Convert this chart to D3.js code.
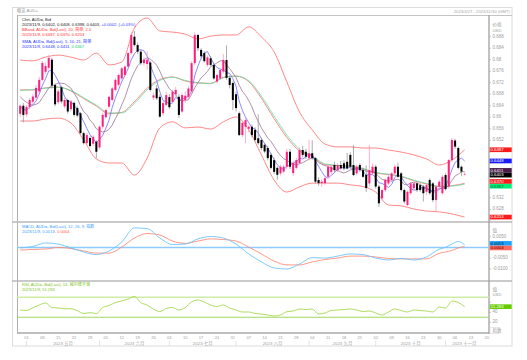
<!DOCTYPE html>
<html>
<head>
<meta charset="utf-8">
<script src="https://cdn.jsdelivr.net/npm/d3@7"></script>
<style>
  body { margin: 0; background: #fff; }
  svg text { font-family: "Liberation Sans", "Noto Sans CJK SC", sans-serif; }
</style>
</head>
<body>
<svg id="chart" width="527" height="360"></svg>
<script>
// ---- data (AUD= daily bid, 2023/4/27 .. 2023/11/9) ----
const opens = [.6612,.6640,.6610,.6636,.6654,.6668,.6690,.6730,.6758,.6772,.6800,.6712,.6652,.6704,.6638,.6660,.6628,.6650,.6632,.6614,
  .6545,.6510,.6528,.6508,.6515,.6495,.6567,.6600,.6637,.6660,.6695,.6713,.6735,.6747,.6776,.6823,.6880,.6851,.6828,.6788,
  .6785,.6790,.6668,.6700,.6671,.6614,.6643,.6670,.6654,.6680,.6671,.6620,.6660,.6671,.6690,.6788,.6886,.6834,.6823,.6782,
  .6805,.6782,.6724,.6735,.6759,.6799,.6737,.6719,.6680,.6614,.6538,.6567,.6560,.6567,.6556,.6527,.6521,.6504,.6493,.6469,
  .6451,.6424,.6405,.6411,.6428,.6480,.6406,.6424,.6441,.6486,.6480,.6458,.6475,.6458,.6382,.6371,.6371,.6393,.6410,.6434,
  .6416,.6434,.6440,.6445,.6469,.6434,.6405,.6434,.6416,.6400,.6370,.6405,.6428,.6359,.6318,.6347,.6370,.6382,.6405,.6428,
  .6405,.6347,.6295,.6336,.6353,.6370,.6364,.6359,.6341,.6382,.6370,.6312,.6359,.6336,.6399,.6359,.6451,.6519,.6493,.6428,.6402];
const highs = [.6645,.6650,.6642,.6668,.6680,.6712,.6740,.6795,.6790,.6817,.6806,.6718,.6698,.6710,.6668,.6665,.6660,.6655,.6640,.6618,
  .6550,.6545,.6535,.6538,.6520,.6572,.6615,.6630,.6675,.6705,.6735,.6752,.6775,.6782,.6828,.6897,.6900,.6860,.6835,.6810,
  .6830,.6795,.6685,.6712,.6680,.6655,.6690,.6680,.6695,.6705,.6680,.6685,.6690,.6708,.6795,.6895,.6890,.6840,.6830,.6815,
  .6812,.6790,.6752,.6772,.6820,.6850,.6745,.6725,.6690,.6620,.6585,.6600,.6572,.6575,.6565,.6610,.6528,.6510,.6500,.6475,
  .6460,.6430,.6435,.6435,.6490,.6490,.6448,.6458,.6495,.6500,.6490,.6522,.6520,.6462,.6392,.6385,.6395,.6435,.6435,.6445,
  .6440,.6448,.6450,.6476,.6478,.6503,.6435,.6440,.6425,.6432,.6504,.6440,.6435,.6365,.6352,.6388,.6400,.6410,.6435,.6442,
  .6410,.6352,.6345,.6375,.6375,.6378,.6370,.6365,.6370,.6388,.6375,.6365,.6382,.6400,.6405,.6455,.6528,.6525,.6498,.6432,.6408];
const lows = [.6600,.6582,.6600,.6628,.6645,.6660,.6684,.6725,.6750,.6765,.6700,.6638,.6645,.6648,.6630,.6612,.6620,.6602,.6600,.6540,
  .6505,.6505,.6495,.6500,.6457,.6488,.6560,.6595,.6630,.6655,.6690,.6708,.6730,.6742,.6770,.6818,.6845,.6820,.6782,.6780,
  .6765,.6690,.6660,.6660,.6598,.6605,.6638,.6628,.6648,.6672,.6598,.6615,.6650,.6665,.6685,.6782,.6830,.6805,.6790,.6775,
  .6778,.6730,.6718,.6730,.6752,.6730,.6700,.6625,.6620,.6535,.6530,.6509,.6548,.6530,.6515,.6505,.6485,.6475,.6450,.6418,
  .6402,.6382,.6398,.6405,.6420,.6420,.6395,.6418,.6435,.6460,.6455,.6450,.6452,.6370,.6362,.6358,.6365,.6388,.6402,.6410,
  .6408,.6418,.6415,.6418,.6420,.6395,.6398,.6410,.6388,.6340,.6360,.6398,.6352,.6288,.6310,.6340,.6365,.6375,.6400,.6390,
  .6342,.6300,.6290,.6330,.6345,.6340,.6340,.6307,.6330,.6330,.6305,.6272,.6348,.6330,.6345,.6352,.6445,.6490,.6418,.6395,.6398];
const closes = [.6640,.6608,.6636,.6660,.6672,.6702,.6730,.6789,.6778,.6806,.6710,.6645,.6690,.6655,.6660,.6620,.6654,.6608,.6606,.6545,
  .6510,.6538,.6500,.6532,.6480,.6567,.6608,.6625,.6671,.6700,.6730,.6747,.6770,.6776,.6823,.6886,.6851,.6828,.6788,.6800,
  .6800,.6695,.6676,.6666,.6602,.6649,.6677,.6635,.6689,.6695,.6608,.6677,.6675,.6700,.6788,.6886,.6840,.6812,.6795,.6808,
  .6782,.6735,.6747,.6764,.6799,.6737,.6712,.6660,.6632,.6538,.6580,.6590,.6567,.6538,.6521,.6510,.6493,.6481,.6458,.6424,
  .6410,.6400,.6428,.6428,.6480,.6428,.6441,.6451,.6486,.6469,.6463,.6475,.6458,.6376,.6371,.6376,.6388,.6428,.6428,.6416,
  .6434,.6422,.6422,.6422,.6428,.6399,.6428,.6416,.6393,.6354,.6416,.6428,.6359,.6301,.6347,.6382,.6393,.6405,.6428,.6393,
  .6347,.6307,.6341,.6370,.6370,.6347,.6347,.6336,.6364,.6336,.6312,.6359,.6376,.6393,.6350,.6451,.6521,.6498,.6424,.6411,.6403];

// simple moving averages, read per candle
const sma5 = [.6640,.6626,.6626,.6635,.6643,.6656,.6680,.6711,.6734,.6761,.6763,.6746,.6726,.6701,.6672,.6654,.6656,.6639,.6630,.6607,
  .6585,.6561,.6540,.6525,.6512,.6523,.6537,.6562,.6590,.6634,.6667,.6695,.6724,.6745,.6769,.6800,.6821,.6833,.6835,.6831,
  .6813,.6782,.6752,.6727,.6688,.6658,.6654,.6646,.6650,.6669,.6661,.6661,.6669,.6671,.6690,.6745,.6778,.6805,.6824,.6828,
  .6807,.6786,.6773,.6767,.6765,.6756,.6752,.6734,.6708,.6656,.6624,.6600,.6581,.6563,.6559,.6545,.6526,.6509,.6493,.6473,
  .6453,.6435,.6424,.6418,.6429,.6433,.6441,.6446,.6457,.6455,.6462,.6469,.6470,.6448,.6429,.6411,.6394,.6388,.6398,.6407,
  .6419,.6426,.6424,.6423,.6426,.6419,.6420,.6419,.6413,.6398,.6401,.6401,.6390,.6372,.6370,.6363,.6356,.6366,.6391,.6400,
  .6393,.6376,.6363,.6352,.6347,.6347,.6355,.6354,.6353,.6346,.6339,.6341,.6349,.6355,.6358,.6386,.6418,.6443,.6452,.6458,.6448];
const sma10 = [.6672,.6660,.6652,.6645,.6642,.6645,.6651,.6668,.6684,.6702,.6710,.6713,.6719,.6718,.6717,.6709,.6701,.6683,.6666,.6640,
  .6620,.6609,.6590,.6578,.6560,.6554,.6549,.6551,.6558,.6573,.6595,.6616,.6643,.6668,.6702,.6734,.6758,.6779,.6790,.6800,
  .6807,.6802,.6793,.6781,.6760,.6736,.6718,.6699,.6689,.6679,.6660,.6658,.6658,.6661,.6680,.6703,.6720,.6737,.6748,.6759,
  .6776,.6782,.6789,.6796,.6797,.6782,.6769,.6754,.6738,.6711,.6690,.6676,.6658,.6636,.6608,.6585,.6563,.6545,.6528,.6516,
  .6499,.6481,.6467,.6456,.6451,.6443,.6438,.6435,.6438,.6442,.6448,.6455,.6458,.6453,.6442,.6437,.6432,.6429,.6423,.6418,
  .6415,.6410,.6406,.6411,.6417,.6419,.6423,.6422,.6418,.6412,.6410,.6411,.6405,.6393,.6384,.6382,.6379,.6378,.6382,.6385,
  .6378,.6366,.6365,.6372,.6374,.6370,.6366,.6359,.6353,.6347,.6343,.6348,.6352,.6354,.6352,.6363,.6380,.6396,.6402,.6410,.6411];

// Bollinger bands (20, 2.0) and SMA 21, read every 4th candle
const bandIdx = [0,4,8,12,16,20,24,28,32,36,40,44,48,52,56,60,64,68,72,76,80,84,88,92,96,100,104,108,112,116,120,124,128,132,136,140];
const bbUpper = [.6799,.6796,.6809,.6816,.6809,.6799,.6823,.6782,.6792,.6910,.6945,.6900,.6896,.6889,.6872,.6882,.6886,.6886,.6914,.6879,
  .6827,.6723,.6618,.6556,.6507,.6497,.6497,.6493,.6493,.6486,.6479,.6469,.6455,.6434,.6451,.6487];
const bbMid = [.6695,.6695,.6702,.6705,.6691,.6665,.6639,.6612,.6617,.6654,.6701,.6731,.6740,.6726,.6719,.6718,.6739,.6743,.6724,.6666,
  .6595,.6530,.6483,.6463,.6435,.6432,.6430,.6421,.6406,.6401,.6394,.6379,.6368,.6359,.6362,.6370];
const bbLower = [.6587,.6587,.6594,.6597,.6580,.6521,.6455,.6441,.6441,.6399,.6458,.6563,.6584,.6563,.6566,.6559,.6584,.6601,.6556,.6469,
  .6382,.6340,.6358,.6371,.6371,.6371,.6365,.6359,.6340,.6295,.6292,.6281,.6274,.6271,.6264,.6253];
const sma21 = [.6693,.6696,.6701,.6704,.6693,.6668,.6642,.6615,.6615,.6648,.6695,.6728,.6739,.6728,.6720,.6717,.6737,.6743,.6727,.6673,
  .6604,.6538,.6489,.6466,.6438,.6433,.6430,.6422,.6408,.6402,.6395,.6381,.6370,.6360,.6361,.6367];

// MACD (12, 26, 9)
const macdIdx = [0,4,8,12,16,20,24,28,32,36,40,44,48,52,56,60,64,68,72,76,80,84,88,92,96,100,104,108,112,116,120,124,128,132,134,136,138,140];
const macdLine = [-.0002,.0005,.0021,.0016,-.0002,-.0021,-.0033,-.0016,.0026,.0091,.0088,.0044,.0014,.0016,.0040,.0051,.0044,.0016,-.0030,-.0067,
  -.0095,-.0100,-.0077,-.0047,-.0049,-.0040,-.0030,-.0033,-.0049,-.0058,-.0051,-.0058,-.0044,-.0008,.0001,.0016,.0028,.0013];
const macdSignal = [-.0012,-.0009,-.0007,0,-.0005,-.0016,-.0026,-.0026,.0002,.0044,.0065,.0058,.0030,.0019,.0030,.0040,.0037,.0030,.0002,-.0030,
  -.0063,-.0081,-.0081,-.0067,-.0056,-.0049,-.0040,-.0040,-.0044,-.0051,-.0053,-.0053,-.0053,-.0027,-.0021,-.0014,-.0002,.0004];

// RSI (14), read every 2nd candle
const rsiIdx = d3.range(0, 141, 2);
const rsiVals = [44.6,43.6,49,54.6,58.6,49.6,48.6,47,47.2,43.2,37.6,39.2,37.6,49.6,53.6,59.6,62.6,66.6,71.6,59.2,
  54.6,46,41.6,47.6,49.6,44.6,49.6,60.6,64.6,60.6,54.6,51.6,54.6,48.6,44.6,40.6,40.6,37.6,36.6,34.6,
  32.6,34.6,41.2,42.6,46.6,45.6,46.6,36.6,38.6,43.6,44.6,45.6,46.6,44.6,41.6,42.6,38.6,34.6,40.6,46.6,
  43.6,40.6,44.6,43.6,42.6,40.6,50.6,48.6,62.6,59.6,51.3];

// last values shown on the axes
const priceMarkers = [
  {v: 0.6487, t: '0.6487', bg: '#ff1a1a', fg: '#fff'},
  {v: 0.6448, t: '0.6448', bg: '#1a1aff', fg: '#fff'},
  {v: 0.6411, t: '0.6411', bg: '#4a1b4a', fg: '#fff'},
  {v: 0.6403, t: '0.6403', bg: '#000', fg: '#fff'},
  {v: 0.6370, t: '0.6370', bg: '#ff1a1a', fg: '#fff'},
  {v: 0.6367, t: '0.6367', bg: '#00f07a', fg: '#064'},
  {v: 0.6253, t: '0.6253', bg: '#ff1a1a', fg: '#fff'}
];
const macdMarkers = [
  {v: 0.0013, t: '0.0013', bg: '#1aa3ff', fg: '#012'},
  {v: 0.0004, t: '0.0004', bg: '#ff6a5c', fg: '#500'}
];
const rsiMarkers = [{v: 51.283, t: '51.283', bg: '#66cc00', fg: '#fff'}];

const priceTicks = [0.688,0.684,0.68,0.676,0.672,0.668,0.664,0.66,0.656,0.652,0.648,0.644,0.64,0.636,0.632,0.628,0.624];
const macdTicks = [0.005, -0.005, -0.01];
const rsiTicks = [60, 40, 20];
const dayLabels = ['01','08','15','22','29','05','12','19','26','03','10','17','24','31','07','14','21','28',
  '04','11','18','25','02','09','16','23','30','06','13','20'];
const monthLabels = ['2023 五月','2023 六月','2023 七月','2023 八月','2023 九月','2023 十月','2023 十一月'];

const headerLines = [
  [['Chrt, AUD=, Bid', '#222']],
  [['2023/11/9, 0.6402, 0.6408, 0.6398, 0.6403, ', '#222'], ['+0.0002, (+0.03%)', '#3344ff']],
  [['BBand, AUD=, Bid(Last), 20, 简单, 2.0', '#ff3333']],
  [['2023/11/9, 0.6487, 0.6370, 0.6253', '#ff3333']],
  [['SMA, AUD=, Bid(Last), 5, 10, 21, 简单', '#2233ff']],
  [['2023/11/9, 0.6448, 0.6411, ', '#2233ff'], ['0.6367', '#11cc66']]
];

// ---- layout ----
const svg = d3.select('#chart');
const plotL = 17, plotR = 489, axisR = 512;
const panes = {price: [15, 222], macd: [222, 281], rsi: [281, 333]};

const tradingDays = d3.timeDay.range(new Date(2023, 3, 27), new Date(2023, 10, 21))
  .filter(d => d.getDay() !== 0 && d.getDay() !== 6);
const x = d3.scaleBand().domain(d3.range(tradingDays.length)).range([18, plotR]).padding(0.36);
const cx = i => x(i) + x.bandwidth() / 2;

const yPrice = d3.scaleLinear().domain([0.628, 0.688]).range([209.3, 36.7]);
const yMacd = d3.scaleLinear().domain([-0.01, 0.005]).range([269, 236.75]);
const yRsi = d3.scaleLinear().domain([0, 100]).range([332.3, 282.3]);

// clip paths per pane
const defs = svg.append('defs');
Object.entries(panes).forEach(([k, [t, b]]) => {
  defs.append('clipPath').attr('id', 'clip-' + k).append('rect')
    .attr('x', plotL).attr('y', t).attr('width', plotR - plotL).attr('height', b - t);
});

// frames
svg.append('rect').attr('x', 12.5).attr('y', 7.5).attr('width', axisR - 12.5).attr('height', 338.5)
  .attr('fill', 'none').attr('stroke', '#dcdcdc');
svg.append('text').attr('x', 17).attr('y', 11.3).attr('font-size', 4.2).attr('fill', '#9a9a9a')
  .attr('dominant-baseline', 'middle').text('概览 AUD=');
svg.append('text').attr('x', 510).attr('y', 11.7).attr('font-size', 4.2).attr('fill', '#a5a5a5')
  .attr('text-anchor', 'end').attr('dominant-baseline', 'middle').text('2023/4/27 - 2023/11/30 (GMT)');
svg.append('line').attr('x1', plotL).attr('x2', axisR).attr('y1', 15.5).attr('y2', 15.5).attr('stroke', '#c4c4c4');
svg.append('line').attr('x1', 17.5).attr('x2', 17.5).attr('y1', 15).attr('y2', 333).attr('stroke', '#b0b0b0');
[panes.macd[0], panes.rsi[0]].forEach(yy => {
  svg.append('line').attr('x1', 12).attr('x2', axisR).attr('y1', yy).attr('y2', yy)
    .attr('stroke', '#b8b8b8').attr('stroke-width', 1.6);
});
svg.append('line').attr('x1', plotL).attr('x2', plotR).attr('y1', 333).attr('y2', 333)
  .attr('stroke', '#a8a8a8').attr('stroke-width', 1.3);
svg.append('line').attr('x1', plotR).attr('x2', plotR).attr('y1', 15).attr('y2', 334)
  .attr('stroke', '#a0a0a0').attr('stroke-width', 1.3);

// ---- price pane ----
const gp = svg.append('g').attr('clip-path', 'url(#clip-price)');
const bandLine = vals => d3.line().x((d, k) => cx(bandIdx[k])).y(d => yPrice(d)).curve(d3.curveMonotoneX)(vals);
gp.append('path').attr('d', bandLine(bbUpper)).attr('fill', 'none').attr('stroke', '#ff7b7b').attr('stroke-width', 0.9);
gp.append('path').attr('d', bandLine(bbLower)).attr('fill', 'none').attr('stroke', '#ff7b7b').attr('stroke-width', 0.9);
gp.append('path').attr('d', bandLine(bbMid)).attr('fill', 'none').attr('stroke', '#ff7b7b').attr('stroke-width', 0.9);
gp.append('path').attr('d', bandLine(sma21)).attr('fill', 'none').attr('stroke', '#5fe0a0').attr('stroke-width', 0.8);
const fullLine = d3.line().x((d, i) => cx(i)).y(d => yPrice(d));
gp.append('path').attr('d', fullLine(sma10)).attr('fill', 'none').attr('stroke', '#9a7595').attr('stroke-width', 0.8);
gp.append('path').attr('d', fullLine(sma5)).attr('fill', 'none').attr('stroke', '#6c6cff').attr('stroke-width', 0.8);

const candles = closes.map((c, i) => ({i, o: opens[i], h: highs[i], l: lows[i], c}));
gp.selectAll('line.wick').data(candles).enter().append('line')
  .attr('x1', d => cx(d.i)).attr('x2', d => cx(d.i))
  .attr('y1', d => yPrice(d.h)).attr('y2', d => yPrice(d.l))
  .attr('stroke', d => d.c >= d.o ? '#ff8fb8' : '#8a8a8a').attr('stroke-width', 0.7);
gp.selectAll('rect.body').data(candles).enter().append('rect')
  .attr('x', d => x(d.i)).attr('width', x.bandwidth())
  .attr('y', d => yPrice(Math.max(d.o, d.c)))
  .attr('height', d => Math.max(0.6, Math.abs(yPrice(d.o) - yPrice(d.c))))
  .attr('fill', d => d.c >= d.o ? '#ff1f7f' : '#000');

// header texts
headerLines.forEach((segs, k) => {
  const yy = [20, 25, 30, 35, 42, 47][k];
  const t = svg.append('text').attr('x', 22).attr('y', yy).attr('font-size', 4.1).attr('dominant-baseline', 'middle');
  segs.forEach(([s, c]) => t.append('tspan').attr('fill', c).text(s));
});

// ---- MACD pane ----
const gm = svg.append('g').attr('clip-path', 'url(#clip-macd)');
gm.append('line').attr('x1', plotL).attr('x2', plotR).attr('y1', yMacd(0)).attr('y2', yMacd(0))
  .attr('stroke', '#8ccaff').attr('stroke-width', 1.3);
const macdPath = vals => d3.line().x((d, k) => cx(macdIdx[k])).y(d => yMacd(d)).curve(d3.curveMonotoneX)(vals);
gm.append('path').attr('d', macdPath(macdSignal)).attr('fill', 'none').attr('stroke', '#ff8c78').attr('stroke-width', 0.9);
gm.append('path').attr('d', macdPath(macdLine)).attr('fill', 'none').attr('stroke', '#6cc4ff').attr('stroke-width', 0.9);
svg.append('text').attr('x', 22).attr('y', 226.5).attr('font-size', 4.1).attr('dominant-baseline', 'middle')
  .attr('fill', '#3aa0ff').text('MACD, AUD=, Bid(Last), 12, 26, 9, 指数');
const mt = svg.append('text').attr('x', 22).attr('y', 231.5).attr('font-size', 4.1).attr('dominant-baseline', 'middle');
mt.append('tspan').attr('fill', '#3aa0ff').text('2023/11/9, 0.0013, ');
mt.append('tspan').attr('fill', '#ff5a4a').text('0.0004');

// ---- RSI pane ----
const gr = svg.append('g').attr('clip-path', 'url(#clip-rsi)');
gr.append('line').attr('x1', plotL).attr('x2', plotR).attr('y1', yRsi(70)).attr('y2', yRsi(70))
  .attr('stroke', '#cdeda6').attr('stroke-width', 1.4);
gr.append('line').attr('x1', plotL).attr('x2', plotR).attr('y1', yRsi(30)).attr('y2', yRsi(30))
  .attr('stroke', '#9ed95c').attr('stroke-width', 1.1);
gr.append('path')
  .attr('d', d3.line().x((d, k) => cx(rsiIdx[k])).y(d => yRsi(d)).curve(d3.curveMonotoneX)(rsiVals))
  .attr('fill', 'none').attr('stroke', '#a5d84a').attr('stroke-width', 0.9);
svg.append('text').attr('x', 22).attr('y', 285).attr('font-size', 4.1).attr('dominant-baseline', 'middle')
  .attr('fill', '#7cc51a').text('RSI, AUD=, Bid(Last), 14, 威尔德平滑');
svg.append('text').attr('x', 22).attr('y', 290).attr('font-size', 4.1).attr('dominant-baseline', 'middle')
  .attr('fill', '#7cc51a').text('2023/11/9, 51.283');

// ---- right axes ----
const axisText = (yy, t, size) => svg.append('text').attr('x', 492.5).attr('y', yy)
  .attr('font-size', size || 4.5).attr('fill', '#9d9d9d').attr('dominant-baseline', 'middle').text(t);
axisText(25, '价格', 4.6); axisText(30.5, 'USD', 4.3);
axisText(231, '值', 4.6);
axisText(290, '值', 4.6); axisText(295, 'USD', 4.3);

// marker label positions, spread apart where they collide
function placeMarkers(list, scale, h) {
  const items = list.map(m => Object.assign({y: scale(m.v)}, m)).sort((a, b) => a.y - b.y);
  for (let it = 0; it < 30; it++) {
    for (let j = 1; j < items.length; j++) {
      const gap = items[j].y - items[j - 1].y;
      if (gap < h) { const s = (h - gap) / 2; items[j - 1].y -= s; items[j].y += s; }
    }
  }
  return items;
}
function drawTicks(ticks, scale, fmt, markers, h) {
  ticks.forEach(v => {
    const yy = scale(v);
    svg.append('line').attr('x1', plotR).attr('x2', plotR + 2).attr('y1', yy).attr('y2', yy)
      .attr('stroke', '#aaa').attr('stroke-width', 0.6);
    // labels hidden under a marker are left out, as on the original chart
    if (markers.some(m => Math.abs(m.y - yy) < h / 2 + 2.3)) return;
    axisText(yy, fmt(v));
  });
}
function drawMarkers(items, h) {
  items.forEach(m => {
    svg.append('rect').attr('x', plotR + 0.7).attr('y', m.y - h / 2).attr('width', axisR - plotR - 1)
      .attr('height', h).attr('fill', m.bg);
    svg.append('text').attr('x', plotR + 1.5).attr('y', m.y + 0.2).attr('font-size', 4.3)
      .attr('fill', m.fg).attr('dominant-baseline', 'middle').text(m.t);
  });
}
const pm = placeMarkers(priceMarkers, yPrice, 4.7);
const mm = placeMarkers(macdMarkers, yMacd, 4.6);
const rm = placeMarkers(rsiMarkers, yRsi, 4.6);
drawTicks(priceTicks, yPrice, v => String(+v.toFixed(3)), pm, 4.7);
drawTicks(macdTicks, yMacd, v => v.toFixed(4), mm, 4.6);
drawTicks(rsiTicks, yRsi, v => String(v), rm, 4.6);
drawMarkers(pm, 4.7);
drawMarkers(mm, 4.6);
drawMarkers(rm, 4.6);

svg.append('rect').attr('x', 490).attr('y', 327.8).attr('width', 10).attr('height', 5.4)
  .attr('fill', 'none').attr('stroke', '#cfcfcf').attr('stroke-width', 0.5);
axisText(330.6, '指数', 4.4);

// ---- x axis ----
const mondays = d3.range(tradingDays.length).filter(i => tradingDays[i].getDay() === 1);
mondays.forEach((i, k) => {
  svg.append('text').attr('x', cx(i)).attr('y', 338.2).attr('font-size', 4.1).attr('fill', '#a0a0a0')
    .attr('text-anchor', 'middle').attr('dominant-baseline', 'middle').text(dayLabels[k]);
});
const monthStarts = d3.range(tradingDays.length)
  .filter(i => i > 0 && tradingDays[i].getMonth() !== tradingDays[i - 1].getMonth());
monthStarts.forEach((i, k) => {
  svg.append('line').attr('x1', cx(i)).attr('x2', cx(i)).attr('y1', 340.5).attr('y2', 346)
    .attr('stroke', '#cfcfcf').attr('stroke-width', 0.6);
  const end = k + 1 < monthStarts.length ? cx(monthStarts[k + 1]) : plotR - 6;
  svg.append('text').attr('x', (cx(i) + end) / 2).attr('y', 343.4).attr('font-size', 4.4).attr('fill', '#a0a0a0')
    .attr('text-anchor', 'middle').attr('dominant-baseline', 'middle').text(monthLabels[k]);
});
</script>
</body>
</html>
